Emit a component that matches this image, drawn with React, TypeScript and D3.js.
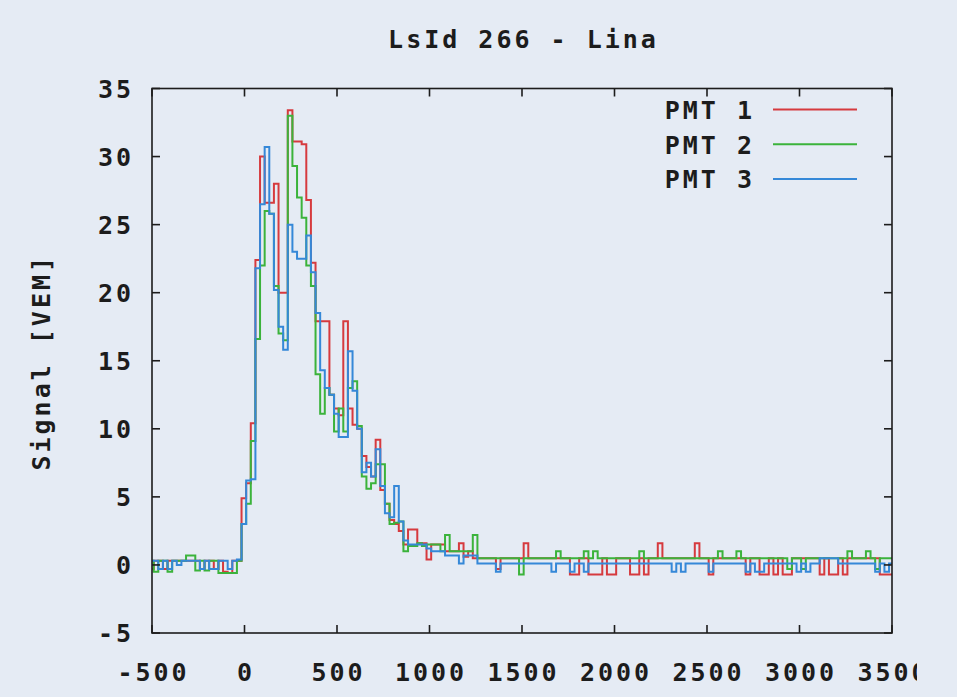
import React from 'react';
import * as d3 from 'd3';

const WIDTH = 957;
const HEIGHT = 697;

// FADC sampling: 25 ns bins, first bin starts before the visible window
const BIN_WIDTH = 25;
const FIRST_BIN = -516;

const pmt1 = [
  -0.3, 0.3, 0.3, -0.3, 0.3, 0.3, 0.3, 0.3, 0.3, 0.3,
  0.3, -0.3, 0.3, 0.3, -0.3, 0.3, -0.5, -0.6, 0.3, 0.3,
  4.9, 6.0, 10.4, 22.4, 30.0, 26.6, 26.6, 28.0, 20.0, 20.0,
  33.4, 31.1, 31.1, 30.9, 26.8, 22.2, 17.9, 17.9, 17.9, 12.5,
  11.5, 11.0, 17.9, 11.5, 10.3, 10.0, 8.0, 7.2, 6.5, 9.2,
  5.5, 4.5, 3.3, 3.0, 2.5, 1.5, 2.6, 2.6, 1.6, 1.6,
  0.4, 1.5, 1.5, 1.5, 1.0, 1.0, 1.0, 1.6, 0.6, 1.0,
  0.5, 0.5, 0.5, 0.5, 0.5, -0.3, 0.5, 0.5, 0.5, 0.5,
  0.5, 1.6, 0.5, 0.5, 0.5, 0.5, 0.5, 0.5, 0.5, 0.5,
  0.5, -0.7, -0.7, 0.5, 0.5, -0.7, -0.7, -0.7, 0.5, -0.7,
  -0.7, 0.5, 0.5, 0.5, -0.7, -0.7, 0.5, -0.7, 0.5, 0.5,
  1.6, 0.5, 0.5, 0.5, 0.5, 0.5, 0.5, 0.5, 1.6, 0.5,
  0.5, -0.7, 0.5, 0.5, 0.5, 0.5, 0.5, 0.5, 0.5, -0.7,
  0.5, 0.5, -0.7, -0.7, 0.5, -0.7, 0.5, -0.7, -0.7, 0.5,
  0.5, 0.5, 0.5, 0.5, 0.5, -0.7, 0.5, -0.7, -0.7, 0.5,
  -0.7, 0.5, 0.5, 0.5, 0.5, 0.5, 0.5, 0.5, -0.7, -0.7,
  -0.7,
];

const pmt2 = [
  0.3, -0.5, 0.3, 0.3, -0.5, 0.3, 0.3, 0.3, 0.7, 0.7,
  -0.4, 0.3, -0.4, 0.3, 0.3, -0.6, -0.6, -0.6, -0.6, 0.3,
  3.0, 4.5, 9.1, 16.6, 22.0, 26.0, 25.8, 20.5, 17.0, 16.5,
  33.0, 29.3, 27.0, 25.5, 22.0, 20.5, 14.0, 11.1, 13.0, 12.5,
  9.8, 11.5, 9.8, 13.0, 13.5, 10.2, 6.5, 5.6, 6.0, 7.4,
  7.4, 4.5, 3.0, 3.1, 3.2, 1.0, 1.4, 1.4, 1.6, 1.4,
  1.5, 1.5, 1.5, 1.0, 2.2, 1.0, 1.0, 1.0, 1.0, 1.0,
  2.2, 0.5, 0.5, 0.5, 0.5, 0.5, 0.5, 0.5, 0.5, 0.5,
  -0.7, 0.5, 0.5, 0.5, 0.5, 0.5, 0.5, 0.5, 1.0, 0.5,
  0.5, 0.5, 0.5, 0.5, 1.0, 0.5, 1.0, 0.5, 0.5, 0.5,
  0.5, 0.5, 0.5, 0.5, 0.5, 0.5, 1.0, 0.5, 0.5, 0.5,
  0.5, 0.5, 0.5, 0.5, 0.5, 0.5, 0.5, 0.5, 0.5, 0.5,
  0.5, 0.5, 0.5, 1.0, 0.5, 0.5, 0.5, 1.0, 0.5, 0.5,
  0.5, 0.5, 0.5, 0.5, 0.5, 0.5, 0.5, 0.5, -0.3, 0.5,
  0.5, -0.3, 0.5, 0.5, 0.5, 0.5, 0.5, 0.5, 0.5, 0.5,
  0.5, 1.0, 0.5, 0.5, 0.5, 1.0, 0.5, -0.3, 0.5, 0.5,
  0.5,
];

const pmt3 = [
  0.3, 0.3, -0.3, 0.3, -0.3, 0.3, 0.0, 0.3, 0.3, 0.3,
  0.3, -0.3, 0.3, -0.3, -0.3, 0.3, 0.3, -0.3, 0.3, 0.4,
  3.0, 6.2, 6.3, 21.8, 26.5, 30.7, 25.8, 20.2, 17.5, 15.8,
  25.0, 23.0, 22.5, 22.5, 24.2, 21.5, 18.5, 14.3, 13.0, 12.5,
  11.1, 9.4, 9.4, 15.7, 12.8, 10.0, 6.8, 7.5, 6.5, 8.5,
  5.8, 3.8, 3.5, 5.8, 3.2, 1.8, 1.5, 1.5, 1.5, 1.5,
  1.2, 1.0, 1.0, 1.0, 0.7, 0.7, 0.7, 0.1, 0.7, 0.7,
  0.7, 0.1, 0.1, 0.1, 0.1, -0.5, 0.1, 0.1, 0.1, 0.1,
  0.1, 0.1, 0.1, 0.1, 0.1, 0.1, 0.1, -0.5, 0.1, 0.1,
  0.1, -0.5, 0.1, 0.1, -0.5, 0.1, 0.1, 0.1, 0.1, 0.1,
  0.1, 0.1, 0.1, 0.1, 0.1, 0.1, 0.1, 0.1, 0.1, 0.1,
  0.1, 0.1, 0.1, -0.5, 0.1, -0.5, 0.1, 0.1, 0.1, 0.1,
  0.1, -0.5, 0.1, 0.1, 0.1, 0.1, 0.1, 0.1, 0.1, -0.5,
  0.1, -0.5, -0.5, 0.1, 0.1, 0.1, 0.1, 0.1, 0.1, 0.1,
  -0.5, 0.1, -0.5, 0.1, 0.1, 0.5, 0.5, 0.5, 0.5, 0.1,
  0.1, 0.1, 0.1, 0.1, 0.1, 0.1, 0.1, -0.5, 0.1, -0.5,
  0.1,
];

const seriesNames = ['PMT 1', 'PMT 2', 'PMT 3'];
const seriesColors = ['#d63a3e', '#3bb33b', '#3588d8'];
const xTicks = [-500, 0, 500, 1000, 1500, 2000, 2500, 3000, 3500];
const yTicks = [-5, 0, 5, 10, 15, 20, 25, 30, 35];
const titleText = 'LsId 266 - Lina';
const yLabelText = 'Signal [VEM]';

const PLOT = { left: 152, right: 892, top: 88.5, bottom: 633 };
const FONT = '"DejaVu Sans Mono", monospace';
const FONT_SIZE = 25;
const LS = 3; // extra letter spacing to widen the monospace advance
const TICK = 8;
const INK = '#1c1c1c';
const BG = '#e5ebf4';
const CANVAS_EDGE = 917; // drawing surface ends here; text beyond is cut

export default function App() {
  const x = d3.scaleLinear().domain([-500, 3500]).range([PLOT.left, PLOT.right]);
  const y = d3.scaleLinear().domain([-5, 35]).range([PLOT.bottom, PLOT.top]);

  const line = d3
    .line<[number, number]>()
    .x((d) => x(d[0]))
    .y((d) => y(d[1]))
    .curve(d3.curveStepAfter);

  const toPoints = (vals: number[]): [number, number][] => {
    const pts: [number, number][] = vals.map((v, i) => [FIRST_BIN + i * BIN_WIDTH, v]);
    pts.push([FIRST_BIN + vals.length * BIN_WIDTH, vals[vals.length - 1]]);
    return pts;
  };

  const series = [pmt1, pmt2, pmt3];

  const textStyle: React.CSSProperties = {
    fontFamily: FONT,
    fontWeight: 'bold',
    fontSize: FONT_SIZE,
    letterSpacing: LS,
  };

  return (
    <svg
      width={WIDTH}
      height={HEIGHT}
      style={{ position: 'absolute', left: 0, top: 0, background: BG }}
    >
      <defs>
        <clipPath id="plot-clip">
          <rect x={PLOT.left} y={PLOT.top} width={PLOT.right - PLOT.left} height={PLOT.bottom - PLOT.top} />
        </clipPath>
        <clipPath id="canvas-clip">
          <rect x={0} y={0} width={CANVAS_EDGE} height={HEIGHT} />
        </clipPath>
      </defs>
      <rect x={0} y={0} width={WIDTH} height={HEIGHT} fill={BG} />

      {/* title */}
      <text x={(PLOT.left + PLOT.right) / 2 + LS / 2} y={48} textAnchor="middle" fill={INK} style={textStyle}>
        {titleText}
      </text>

      {/* y axis label */}
      <text
        transform={`translate(50, ${(PLOT.top + PLOT.bottom) / 2 + 3}) rotate(-90)`}
        x={LS / 2}
        y={0}
        textAnchor="middle"
        fill={INK}
        style={textStyle}
      >
        {yLabelText}
      </text>

      {/* traces */}
      <g clipPath="url(#plot-clip)">
        {series.map((vals, i) => (
          <path
            key={seriesNames[i]}
            d={line(toPoints(vals)) || ''}
            fill="none"
            stroke={seriesColors[i]}
            strokeWidth={2}
            strokeLinejoin="miter"
          />
        ))}
      </g>

      {/* frame and ticks */}
      <g stroke={INK} strokeWidth={1.6} fill="none">
        <rect x={PLOT.left} y={PLOT.top} width={PLOT.right - PLOT.left} height={PLOT.bottom - PLOT.top} />
        {xTicks.map((t) => (
          <g key={`xt${t}`}>
            <line x1={x(t)} x2={x(t)} y1={PLOT.bottom} y2={PLOT.bottom - TICK} />
            <line x1={x(t)} x2={x(t)} y1={PLOT.top} y2={PLOT.top + TICK} />
          </g>
        ))}
        {yTicks.map((t) => (
          <g key={`yt${t}`}>
            <line x1={PLOT.left} x2={PLOT.left + TICK} y1={y(t)} y2={y(t)} />
            <line x1={PLOT.right} x2={PLOT.right - TICK} y1={y(t)} y2={y(t)} />
          </g>
        ))}
      </g>

      {/* tick labels */}
      <g fill={INK} style={textStyle} clipPath="url(#canvas-clip)">
        {xTicks.map((t) => (
          <text key={`xl${t}`} x={x(t) + LS / 2} y={681} textAnchor="middle">
            {String(t)}
          </text>
        ))}
        {yTicks.map((t) => (
          <text key={`yl${t}`} x={131 + LS} y={y(t) + 9} textAnchor="end">
            {String(t)}
          </text>
        ))}
      </g>

      {/* legend */}
      <g>
        {seriesNames.map((name, i) => {
          const ly = 109.5 + i * 34.7;
          return (
            <g key={name}>
              <text x={752 + LS} y={ly + 9.5} textAnchor="end" fill={INK} style={textStyle}>
                {name}
              </text>
              <line x1={773} x2={857} y1={ly} y2={ly} stroke={seriesColors[i]} strokeWidth={2} />
            </g>
          );
        })}
      </g>
    </svg>
  );
}
